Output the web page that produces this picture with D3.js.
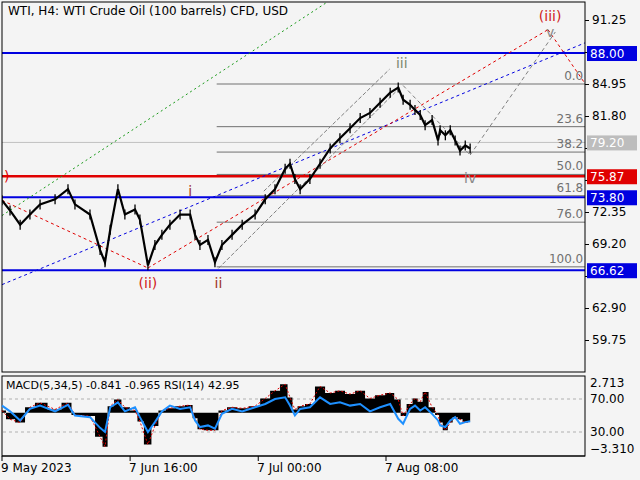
<!DOCTYPE html><html><head><meta charset="utf-8"><script src="https://cdn.jsdelivr.net/npm/d3@7"></script>
<style>body{margin:0;background:#fff}text{font-family:Tahoma,"DejaVu Sans",sans-serif}</style></head><body><svg id="c" width="640" height="480"></svg><script>
const days=[0,2.3,5.2,8,10.9,15.2,18.9,20.9,25.2,28.1,29.5,31,33.2,35.2,38.1,39.5,41.8,43.8,45.8,48.1,51,53.9,55.3,56.7,59,61.0,63,65.9,68.8,72.5,75.4,78.2,81.1,82.5,83.9,85.4,88.2,91.1,94,96.8,99.7,102.6,105.4,108.3,111.2,113.5,114.9,116.9,118.3,119.8,121.2,123.2,124.9,125.5,127,128.4,129.8,131.2,132.7,134.1];
const closes=[73.5,72.5,71.1,72.1,73.1,73.6,74.6,73.1,72.1,68.6,67.4,70.6,74.6,72.1,72.6,71.6,67.1,69.1,70.1,71.1,72.1,72.1,70.1,69.1,69.6,67.4,69.1,70.1,71.1,72.1,73.6,74.6,76.6,77.1,75.6,74.6,75.6,77.1,78.6,79.6,80.6,81.6,82.1,83.1,84.1,84.6,83.4,82.9,82.4,81.9,80.9,81.4,79.4,80.4,79.9,80.4,79.4,78.4,78.9,78.6];
const macd=[0.2,-0.6,-0.9,0.5,0.9,0.3,0.9,-0.2,-0.3,-2.2,-3.1,0.6,1.2,0.5,0.2,-0.8,-2.9,-1.2,0.2,0.4,0.6,0.7,-0.5,-1.5,-1.6,-1.6,0.2,0.5,0.4,0.6,1.3,2.0,2.6,1.4,0.3,0.6,0.8,2.4,1.8,2.0,1.7,2.0,1.3,1.6,1.8,1.2,-0.3,0.8,1.3,1.0,1.9,0.5,-0.2,-0.9,-1.6,-0.9,-0.4,-0.6,-0.9,-0.8];
const rsi=[62,55,44,58,62,55,63,50,48,35,30,60,66,55,60,48,30,42,55,62,58,60,44,36,38,34,52,58,55,60,64,70,72,62,50,58,60,72,64,66,62,64,55,60,64,46,40,58,62,56,60,52,44,38,36,44,48,40,42,43];
const hLevels=[{p:88.00,c:"#0000e0",w:2},{p:75.87,c:"#e00000",w:2.5},{p:73.80,c:"#0000e0",w:2},{p:66.62,c:"#0000e0",w:2}];
const tags=[{p:88.00,t:"88.00",c:"#0000e0"},{p:79.20,t:"79.20",c:"#bdbdbd"},{p:75.87,t:"75.87",c:"#e00000"},{p:73.80,t:"73.80",c:"#0000e0"},{p:66.62,t:"66.62",c:"#0000e0"}];
const priceTicks=[91.25,88.10,84.95,81.80,78.65,75.50,72.35,69.20,66.05,62.90,59.75];
const hiddenTickLabels=[88.10,78.65,75.50,66.05];
const fibRatios=["0.0","23.6","38.2","50.0","61.8","76.0","100.0"];
const fibPrices=[84.95,80.75,78.25,76.05,73.95,71.35,66.95];
const timeLabels=[{d:0,t:"9 May 2023"},{d:36.7,t:"7 Jun 16:00"},{d:73.4,t:"7 Jul 00:00"},{d:110,t:"7 Aug 08:00"}];
const trend=[
 {a:[0,72.0],b:[94,93.2],c:"#1a9a1a",dash:"2,3"},
 {a:[0,65.2],b:[167,89.0],c:"#0000e0",dash:"3,3"},
 {a:[0,73.5],b:[41.8,66.84],c:"#e00000",dash:"3,3"},
 {a:[41.8,66.84],b:[156.4,90.3],c:"#e00000",dash:"3,3"},
 {a:[156.4,90.3],b:[167,85.0],c:"#e00000",dash:"3,3"},
 {a:[134.1,77.96],b:[158.5,90.07],c:"#808080",dash:"4,3"},
 {a:[114.9,84.8],b:[134.1,77.96],c:"#808080",dash:"4,3"},
 {a:[62,66.8],b:[114,84.6],c:"#808080",dash:"4,2"},
 {a:[75,74.4],b:[111,86.4],c:"#808080",dash:"4,2"}];
const waves=[{d:114.5,p:86.5,t:"iii",c:"#7d8a6d"},{d:134.1,p:75.2,t:"iv",c:"#8a8a8a"},{d:53.9,p:73.9,t:"i",c:"#a0332a"},{d:62,p:64.9,t:"ii",c:"#a0332a"},{d:41.8,p:64.9,t:"(ii)",c:"#d02020"},{d:157,p:89.6,t:"v",c:"#8a8a8a"},{d:157,p:91.2,t:"(iii)",c:"#d02020"}];

const svg=d3.select("#c");
svg.append("rect").attr("width",640).attr("height",480).attr("fill","#f4f4f4");
const x=d3.scaleLinear().domain([0,167]).range([2,585]);
const y=d3.scaleLinear().domain([84.95,69.20]).range([84,244]);
const ym=d3.scaleLinear().domain([2.713,-3.310]).range([383,449]);
const yr=d3.scaleLinear().domain([70,30]).range([399,432]);
const main=svg.append("g");
main.append("clipPath").attr("id","cp").append("rect").attr("x",2).attr("y",2).attr("width",583).attr("height",370);
const g=main.append("g").attr("clip-path","url(#cp)");
g.append("line").attr("x1",x(0)).attr("x2",x(167)).attr("y1",y(79.2)).attr("y2",y(79.2)).attr("stroke","#c0c0c0");
fibPrices.forEach((p,i)=>{g.append("line").attr("x1",x(61.5)).attr("x2",x(167)).attr("y1",y(p)).attr("y2",y(p)).attr("stroke","#707070");
 g.append("text").attr("x",x(166.5)).attr("y",y(p)-4).attr("text-anchor","end").attr("font-size",12).attr("fill","#707070").text(fibRatios[i]);});
hLevels.forEach(h=>g.append("line").attr("x1",x(0)).attr("x2",x(167)).attr("y1",y(h.p)).attr("y2",y(h.p)).attr("stroke",h.c).attr("stroke-width",h.w));
trend.forEach(t=>g.append("line").attr("x1",x(t.a[0])).attr("y1",y(t.a[1])).attr("x2",x(t.b[0])).attr("y2",y(t.b[1])).attr("stroke",t.c).attr("stroke-dasharray",t.dash));
const pl=days.map((d,i)=>[x(d),y(closes[i])]);
g.append("path").attr("d",d3.line()(pl)).attr("fill","none").attr("stroke","#000").attr("stroke-width",2.2);
pl.forEach((p,i)=>{g.append("line").attr("x1",p[0]).attr("x2",p[0]).attr("y1",p[1]-5).attr("y2",p[1]+5).attr("stroke","#000").attr("stroke-width",1.3);});
waves.forEach(w=>g.append("text").attr("x",x(w.d)).attr("y",y(w.p)).attr("text-anchor","middle").attr("font-size",14).attr("fill",w.c).text(w.t));
g.append("text").attr("x",4).attr("y",y(75.87)+5).attr("font-size",14).attr("fill","#e00000").text(")");
main.append("text").attr("x",8).attr("y",15).attr("font-size",12).attr("fill","#000").text("WTI, H4:  WTI Crude Oil (100 barrels) CFD, USD");
main.append("rect").attr("x",2).attr("y",2).attr("width",583).attr("height",370).attr("fill","none").attr("stroke","#000");
const ax=svg.append("g").attr("transform","translate(585,0)").call(d3.axisRight(y).tickValues(priceTicks).tickFormat(v=>hiddenTickLabels.includes(v)?"":d3.format(".2f")(v)).tickSize(4).tickSizeOuter(0));
ax.select(".domain").remove();ax.selectAll("text").attr("font-size",12).attr("fill","#000").attr("font-family","Tahoma,DejaVu Sans,sans-serif");
tags.forEach(t=>{svg.append("rect").attr("x",587).attr("y",y(t.p)-7).attr("width",50).attr("height",15).attr("fill",t.c);
 svg.append("text").attr("x",590).attr("y",y(t.p)+5).attr("font-size",12).attr("fill","#fff").text(t.t);});
svg.append("rect").attr("x",2).attr("y",376).attr("width",583).attr("height",80).attr("fill","#f4f4f4").attr("stroke","#000");
[70,30].forEach(v=>svg.append("line").attr("x1",3).attr("x2",585).attr("y1",yr(v)).attr("y2",yr(v)).attr("stroke","#b0b0b0").attr("stroke-dasharray","3,3"));
const mx=days.map((d,i)=>[x(d),ym(macd[i])]);
svg.append("path").attr("d",d3.area().x(d=>d[0]).y0(ym(0)).y1(d=>d[1]).curve(d3.curveStep)(mx)).attr("fill","#000");
svg.append("path").attr("d",d3.line()(mx)).attr("fill","none").attr("stroke","#e00000").attr("stroke-dasharray","2,2");
svg.append("path").attr("d",d3.line()(days.map((d,i)=>[x(d),yr(rsi[i])]))).attr("fill","none").attr("stroke","#1e90ff").attr("stroke-width",2);
svg.append("text").attr("x",6).attr("y",389).attr("font-size",11).text("MACD(5,34,5) -0.841 -0.965 RSI(14) 42.95");
[2.713,-3.310].forEach(v=>svg.append("text").attr("x",590).attr("y",ym(v)+4).attr("font-size",12).text(d3.format(".3f")(v)));
[70,30].forEach(v=>svg.append("text").attr("x",590).attr("y",yr(v)+4).attr("font-size",12).text(v.toFixed(2)));
svg.append("line").attr("x1",2).attr("x2",585).attr("y1",456).attr("y2",456).attr("stroke","#000");
timeLabels.forEach(t=>{svg.append("line").attr("x1",x(t.d)).attr("x2",x(t.d)).attr("y1",456).attr("y2",461).attr("stroke","#000");
 svg.append("text").attr("x",x(t.d)-1).attr("y",472).attr("font-size",12).text(t.t);});
</script></body></html>
